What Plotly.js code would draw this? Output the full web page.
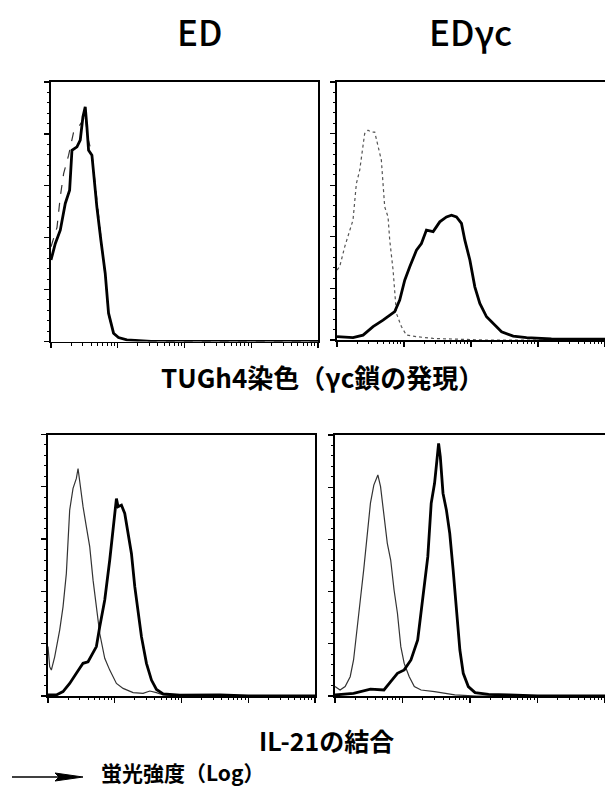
<!DOCTYPE html>
<html><head><meta charset="utf-8">
<script src="https://cdn.plot.ly/plotly-3.0.1.min.js"></script>
<style>html,body{margin:0;padding:0;background:#fff;}#chart{width:605px;height:787px;}</style>
</head><body><div id="chart"></div>
<script>
// x values: log10 fluorescence intensity (decades 0..4); y values: relative cell count (% of panel height)
const p1_ctrl_x = [0,0.09,0.139,0.189,0.264,0.339,0.413,0.463,0.513,0.548,0.613,0.662,0.712,0.762,0.812,0.862,0.937,1.036,1.186,1.5,4];
const p1_ctrl_y = [36.5,44,55.8,64.7,71.8,80.8,82.7,84.6,87.5,78.8,72.4,60.9,49.4,37.8,25,10.3,2.9,1.3,0.6,0,0];
const p1_stain_x = [0,0.065,0.139,0.214,0.279,0.314,0.389,0.438,0.478,0.513,0.538,0.563,0.613,0.648,0.687,0.747,0.812,0.862,0.937,1.011,1.136,1.5,4];
const p1_stain_y = [31.4,37.8,42.9,53.2,58.3,73.7,75,77.6,86.5,90.4,82.7,73.7,71.8,62.2,51.9,39.1,26.3,10.9,3.2,1.5,0.6,0,0];

const p2_ctrl_x = [0,0.04,0.115,0.189,0.239,0.289,0.339,0.379,0.413,0.463,0.513,0.563,0.613,0.662,0.712,0.762,0.787,0.837,0.887,0.961,1.036,1.186,1.435,1.74,2.2,4];
const p2_ctrl_y = [27.1,28.4,36.1,42.6,46.5,60.6,65.8,73.5,80,81.3,80.6,80.6,74.8,69.7,51.6,47.7,38.7,27.1,10.3,5.2,1.9,1.3,0.6,0.3,0,0];
const p2_stain_x = [0,0.239,0.389,0.538,0.687,0.862,0.936,1.011,1.086,1.186,1.26,1.335,1.435,1.534,1.634,1.709,1.783,1.858,1.908,1.983,2.057,2.132,2.232,2.331,2.456,2.63,2.829,3.2,4];
const p2_stain_y = [1.3,0.9,1.9,5.2,7.7,11,15.5,23.2,28.4,34.8,37.4,42.6,42,45.8,47.7,48.4,47.7,45.2,38.7,31,20.6,14.2,9,6.5,3.2,1.5,0.9,0.4,0.3];

const p3_ctrl_x = [0,0.025,0.05,0.1,0.175,0.225,0.275,0.325,0.375,0.425,0.45,0.475,0.525,0.575,0.625,0.675,0.725,0.775,0.85,0.925,1.025,1.125,1.275,1.425,1.525,1.625,1.725,2.0,4];
const p3_ctrl_y = [18.9,11.2,9.9,15,25.2,34.1,46.9,71.1,79.4,83.2,87,81.3,72.4,64.7,57.1,44.3,34.1,23.9,14.4,9.9,4.8,2.9,1.3,1.0,1.9,1.3,0.4,0,0];
const p3_stain_x = [0,0.125,0.225,0.325,0.425,0.525,0.6,0.675,0.725,0.775,0.85,0.925,0.975,1.025,1.05,1.1,1.15,1.2,1.25,1.3,1.35,1.4,1.475,1.55,1.625,1.725,1.975,2.325,2.575,3.0,4];
const p3_stain_y = [0.4,0.4,1.7,4.8,8.7,12.5,13.1,16.3,18.9,26.5,36.7,52,63.4,75.5,72.4,73,69.8,62.2,54.5,41.8,31.6,22.7,12.5,6.1,2.5,0.8,0.3,0.5,0.4,0,0];

const p4_ctrl_x = [0,0.075,0.15,0.225,0.275,0.325,0.375,0.425,0.475,0.525,0.575,0.635,0.675,0.725,0.775,0.825,0.875,0.925,0.975,1.025,1.1,1.175,1.275,1.475,1.575,1.775,2.1,4];
const p4_ctrl_y = [3.6,2.3,3.6,7.4,13.8,26.6,36.8,48.3,59.8,73.9,80.8,84.7,80.2,68.7,58.5,52.1,40.6,31.7,18.9,12.5,7.4,3.6,2.3,1.7,1.3,0.4,0,0];
const p4_stain_x = [0,0.275,0.525,0.725,0.825,0.925,1.025,1.125,1.225,1.3,1.375,1.425,1.475,1.51,1.535,1.56,1.6,1.65,1.7,1.75,1.8,1.85,1.9,1.975,2.075,2.275,2.575,3.0,4];
const p4_stain_y = [0.4,1,2.6,2.3,5.5,8.7,10,13.8,21.5,36.8,53.4,73.8,81.5,90.4,96.8,91.7,77.7,71.3,62.3,48.3,34.2,17.6,8.7,3.6,1.3,0.6,0.4,0,0];

const columnTitles = ['ED', 'EDγc'];
const rowLabels = ['TUGh4染色（γc鎖の発現）', 'IL-21の結合'];
const axisNote = '蛍光強度（Log）';
const majorTicks = [0,1,2,3,4];
const minorTicks = [];
for (let d = 0; d < 4; d++) for (let m = 2; m <= 9; m++) minorTicks.push(d + Math.log10(m));

function ctrl(x, y, xa, ya, dash, color) {
  return {x, y, xaxis: xa, yaxis: ya, mode: 'lines', line: {color: color, width: 1.2, dash: dash}, hoverinfo: 'skip'};
}
function stain(x, y, xa, ya) {
  return {x, y, xaxis: xa, yaxis: ya, mode: 'lines', line: {color: '#000', width: 2.8}, hoverinfo: 'skip'};
}
const data = [
  ctrl(p1_ctrl_x, p1_ctrl_y, 'x', 'y', 'dash', '#333'), stain(p1_stain_x, p1_stain_y, 'x', 'y'),
  ctrl(p2_ctrl_x, p2_ctrl_y, 'x2', 'y2', 'dot', '#555'), stain(p2_stain_x, p2_stain_y, 'x2', 'y2'),
  ctrl(p3_ctrl_x, p3_ctrl_y, 'x3', 'y3', 'solid', '#333'), stain(p3_stain_x, p3_stain_y, 'x3', 'y3'),
  ctrl(p4_ctrl_x, p4_ctrl_y, 'x4', 'y4', 'solid', '#333'), stain(p4_stain_x, p4_stain_y, 'x4', 'y4')
];

function xax(dom, anchor, mirror) {
  return {domain: dom, anchor: anchor, range: [0, 4], showgrid: false, zeroline: false,
    showline: true, linecolor: '#000', linewidth: 1.6, mirror: mirror,
    tickmode: 'array', tickvals: majorTicks, ticks: 'outside', ticklen: 5, tickwidth: 1.3, tickcolor: '#000',
    showticklabels: false, fixedrange: true,
    minor: {tickmode: 'array', tickvals: minorTicks, ticks: 'outside', ticklen: 2.5, tickwidth: 1, tickcolor: '#000'}};
}
function yax(dom, anchor, mirror) {
  return {domain: dom, anchor: anchor, range: [0, 100], showgrid: false, zeroline: false,
    showline: true, linecolor: '#000', linewidth: 1.6, mirror: mirror,
    tick0: 0, dtick: 20, ticks: 'outside', ticklen: 5, tickwidth: 1.2, tickcolor: '#000',
    showticklabels: false, fixedrange: true,
    minor: {dtick: 4, ticks: 'outside', ticklen: 2.5, tickwidth: 1, tickcolor: '#000'}};
}

const W = 605, H = 787;
const px = v => v / W, py = v => 1 - v / H;
const font = 'Noto Sans CJK JP, Noto Sans, sans-serif';
function label(text, x, y, size, weight, anchor) {
  return {text: text, x: px(x), y: py(y), xref: 'paper', yref: 'paper', xanchor: anchor || 'center', yanchor: 'middle',
    showarrow: false, font: {family: font, size: size, color: '#000', weight: weight}};
}

const layout = {
  width: W, height: H, margin: {l: 0, r: 0, t: 0, b: 0},
  paper_bgcolor: '#fff', plot_bgcolor: '#fff', showlegend: false,
  xaxis: xax([px(51), px(318)], 'y', true),
  yaxis: yax([py(341.5), py(82)], 'x', true),
  xaxis2: xax([px(337), px(605)], 'y2', true),
  yaxis2: yax([py(340), py(82)], 'x2', false),
  xaxis3: xax([px(48), px(315)], 'y3', true),
  yaxis3: yax([py(696), py(434.5)], 'x3', true),
  xaxis4: xax([px(335), px(605)], 'y4', true),
  yaxis4: yax([py(696), py(435)], 'x4', false),
  annotations: [
    label(columnTitles[0], 199, 30, 35, 500),
    label(columnTitles[1], 470, 31, 35, 500),
    label(rowLabels[0], 322, 376, 26, 'bold'),
    label(rowLabels[1], 326, 740, 25, 'bold'),
    label(axisNote, 99, 772, 21, 'bold', 'left')
  ],
  shapes: [
    {type: 'line', xref: 'paper', yref: 'paper', x0: px(12), x1: px(60), y0: py(777), y1: py(777), line: {color: '#000', width: 1.5}},
    {type: 'path', xref: 'paper', yref: 'paper',
     path: 'M ' + px(55) + ' ' + py(773) + ' L ' + px(83) + ' ' + py(777) + ' L ' + px(55) + ' ' + py(781) + ' L ' + px(59) + ' ' + py(777) + ' Z',
     fillcolor: '#000', line: {color: '#000', width: 1}}
  ]
};

Plotly.newPlot('chart', data, layout, {staticPlot: true, displayModeBar: false});
</script></body></html>
